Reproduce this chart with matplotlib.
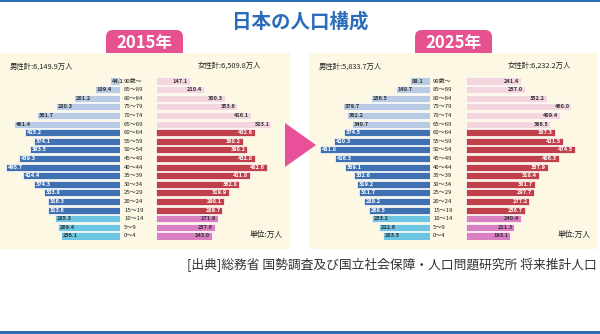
import matplotlib
matplotlib.use("Agg")
import matplotlib.pyplot as plt
from matplotlib.patches import FancyBboxPatch, Rectangle, Polygon
from matplotlib.transforms import blended_transform_factory

plt.rcParams['font.family'] = ['Noto Sans CJK JP', 'DejaVu Sans']

# age groups, oldest first
ages = ['90歳～', '85～89', '80～84', '75～79', '70～74', '65～69', '60～64',
        '55～59', '50～54', '45～49', '40～44', '35～39', '30～34', '25～29',
        '20～24', '15～19', '10～14', '5～9', '0～4']

male_2015 = [44.1, 109.4, 201.2, 280.3, 361.7, 461.4, 415.2, 374.1, 393.5, 439.3,
             495.7, 424.4, 374.3, 333.8, 316.3, 313.6, 285.3, 269.4, 256.1]
female_2015 = [147.1, 210.4, 300.3, 353.6, 416.1, 503.1, 432.6, 380.2, 398.2, 432.8,
               482.6, 411.8, 362.8, 319.9, 298.1, 289.7, 271.9, 257.6, 243.0]
male_2025 = [89.1, 148.7, 256.5, 379.7, 362.2, 340.7, 374.5, 420.3, 481.8, 416.3,
             369.1, 332.6, 319.2, 311.7, 289.2, 268.5, 253.2, 222.6, 203.5]
female_2025 = [241.4, 257.0, 352.2, 460.0, 409.4, 366.5, 387.3, 421.5, 474.5, 406.3,
               357.9, 318.4, 301.7, 297.7, 277.2, 256.7, 240.4, 211.3, 193.1]

totals = {'2015': ('男性計:6,149.9万人', '女性計:6,509.8万人'),
          '2025': ('男性計:5,833.7万人', '女性計:6,232.2万人')}

# age band: 0 = 65+, 1 = 15-64, 2 = 0-14
band = [0] * 6 + [1] * 10 + [2] * 3
male_cols = ['#b9cbe4', '#3f70b2', '#6cc5e2']
female_cols = ['#f3d6de', '#bf404a', '#d97fc2']
male_txt = ['#333333', 'white', '#333333']
female_txt = ['#333333', 'white', '#333333']

W, H = 600, 334
fig = plt.figure(figsize=(6, 3.34), dpi=100)
fig.patch.set_facecolor('white')


def rect(x0, y0, x1, y1):
    return [x0 / W, 1 - y1 / H, (x1 - x0) / W, (y1 - y0) / H]


bg = fig.add_axes([0, 0, 1, 1])
bg.set_xlim(0, W)
bg.set_ylim(H, 0)
bg.axis('off')

blue = '#2a6cba'
pink = '#e5528f'
cream = '#fdf8e3'

# frame lines
bg.add_patch(Rectangle((0, 0), W, 2, color=blue, lw=0))
bg.add_patch(Rectangle((0, 331), W, 3, color=blue, lw=0))

bg.text(300, 22, '日本の人口構成', ha='center', va='center', fontsize=14,
        fontweight='bold', color=blue)

scale = 0.229  # px per 万人
row_top, row_bot = 76.7, 240.3

panels = [
    ('2015', 0, 290, 106, 120, 156, 124, male_2015, female_2015),
    ('2025', 309, 598, 415, 430, 466, 433, male_2025, female_2025),
]

for year, px0, px1, tabx, mx1, fx0, lx, male, female in panels:
    # tab
    bg.add_patch(FancyBboxPatch((tabx, 30), 77, 30, boxstyle='round,pad=0,rounding_size=7',
                                fc=pink, ec='none'))
    bg.text(tabx + 38.5, 43, year + '年', ha='center', va='center', color='white',
            fontsize=12, fontweight='bold')
    # panel
    bg.add_patch(Rectangle((px0, 53), px1 - px0, 196, fc=cream, ec='none'))
    bg.text(px0 + 10, 67, totals[year][0], ha='left', va='center',
            fontsize=5.3, color='#222222')
    bg.text(fx0 + 105, 66, totals[year][1], ha='right', va='center',
            fontsize=5.3, color='#222222')
    bg.text(px1 - 7, 235, '単位:万人', ha='right', va='center', fontsize=5.6, color='#222222')

    y = list(range(len(ages)))

    axm = fig.add_axes(rect(mx1 - 500 * scale, row_top, mx1, row_bot))
    axm.barh(y, male, height=0.82, color=[male_cols[b] for b in band],
             edgecolor='#ffffff', linewidth=0.5)
    axm.set_xlim(500, 0)
    axm.set_ylim(18.5, -0.5)
    axm.axis('off')
    for i, v in enumerate(male):
        axm.text(v - 8, i, f'{v:.1f}', ha='left', va='center', fontsize=4,
                 color=male_txt[band[i]], fontweight='bold')

    axf = fig.add_axes(rect(fx0, row_top, fx0 + 520 * scale, row_bot))
    axf.barh(y, female, height=0.82, color=[female_cols[b] for b in band],
             edgecolor='#ffffff', linewidth=0.5)
    axf.set_xlim(0, 520)
    axf.set_ylim(18.5, -0.5)
    axf.axis('off')
    for i, v in enumerate(female):
        axf.text(v - 8, i, f'{v:.1f}', ha='right', va='center', fontsize=4,
                 color=female_txt[band[i]], fontweight='bold')

    tr = blended_transform_factory(bg.transData, axm.transData)
    for i, a in enumerate(ages):
        axm.text(lx, i, a, transform=tr, ha='left', va='center', fontsize=4.3,
                 color='#222222')

# arrow between panels
bg.add_patch(Polygon([(285, 123), (285, 167), (316, 145)], closed=True, fc='#e8519a', ec='none'))

bg.text(597, 265, '[出典]総務省 国勢調査及び国立社会保障・人口問題研究所 将来推計人口',
        ha='right', va='center', fontsize=9.2, color='#333333')

fig.savefig('out.png', dpi=100)
